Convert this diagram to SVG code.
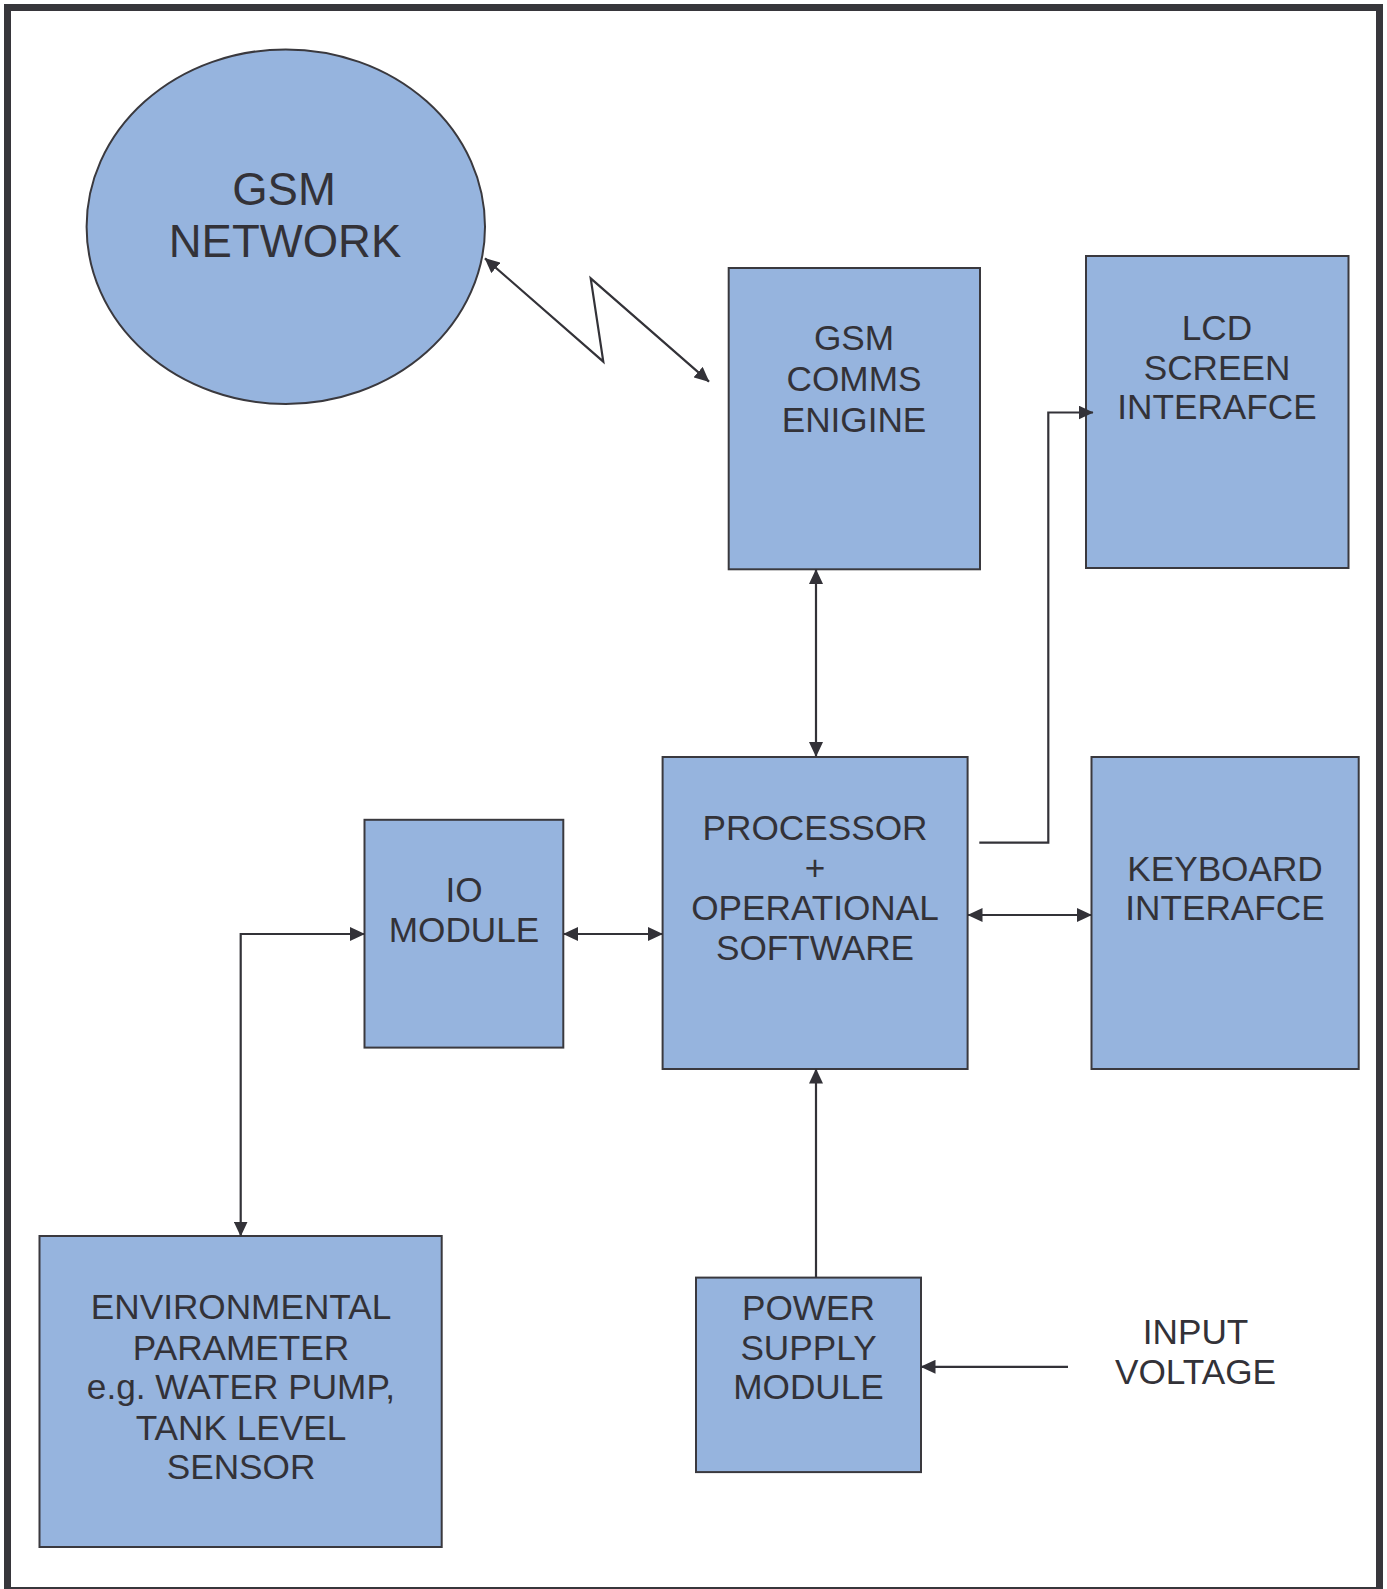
<svg xmlns="http://www.w3.org/2000/svg" width="1387" height="1589" viewBox="0 0 1387 1589">
<style>
.box{fill:#96b4de;stroke:#3a393e;stroke-width:2}
.t{font-family:"Liberation Sans",Arial,Helvetica,sans-serif;font-size:35.2px;fill:#333238;text-anchor:middle}
.big{font-size:45.5px}
.c{fill:none;stroke:#333238;stroke-width:2.2}
</style>
<defs>
<marker id="ah" markerUnits="userSpaceOnUse" markerWidth="15" markerHeight="14" refX="14.5" refY="7" orient="auto-start-reverse" viewBox="0 0 15 14">
<path d="M0,0 L15,7 L0,14 Z" fill="#333238"/>
</marker>
</defs>
<rect x="0" y="0" width="1387" height="1589" fill="#ffffff"/>
<rect id="frame" x="7.5" y="7.5" width="1372" height="1583" fill="none" stroke="#37363b" stroke-width="7"/>
<g id="gsm-network">
<ellipse class="box" cx="285.8" cy="226.7" rx="199.2" ry="177.3"/>
<text class="t big" x="284" y="205">GSM</text>
<text class="t big" x="285" y="256.7">NETWORK</text>
</g>
<g id="gsm-comms">
<rect class="box" x="728.7" y="268" width="251.3" height="301.3"/>
<text class="t" x="854" y="350">GSM</text>
<text class="t" x="854" y="390.7">COMMS</text>
<text class="t" x="854" y="431.5">ENIGINE</text>
</g>
<g id="lcd">
<rect class="box" x="1086" y="256" width="262.5" height="312"/>
<text class="t" x="1217" y="339.5">LCD</text>
<text class="t" x="1217" y="379.5">SCREEN</text>
<text class="t" x="1217" y="419">INTERAFCE</text>
</g>
<g id="processor">
<rect class="box" x="662.6" y="757" width="305" height="312"/>
<text class="t" x="815" y="840">PROCESSOR</text>
<text class="t" x="815" y="880">+</text>
<text class="t" x="815" y="920">OPERATIONAL</text>
<text class="t" x="815" y="960">SOFTWARE</text>
</g>
<g id="keyboard">
<rect class="box" x="1091.5" y="757" width="267.2" height="312"/>
<text class="t" x="1225" y="880.5">KEYBOARD</text>
<text class="t" x="1225" y="920">INTERAFCE</text>
</g>
<g id="io-module">
<rect class="box" x="364.5" y="819.8" width="198.8" height="227.8"/>
<text class="t" x="464" y="902">IO</text>
<text class="t" x="464" y="941.5">MODULE</text>
</g>
<g id="environmental">
<rect class="box" x="39.5" y="1236" width="402.2" height="311"/>
<text class="t" x="241" y="1319">ENVIRONMENTAL</text>
<text class="t" x="241" y="1359.5">PARAMETER</text>
<text class="t" x="241" y="1399">e.g. WATER PUMP,</text>
<text class="t" x="241" y="1439.5">TANK LEVEL</text>
<text class="t" x="241" y="1479">SENSOR</text>
</g>
<g id="power">
<rect class="box" x="696" y="1277.6" width="225" height="194.5"/>
<text class="t" x="808.5" y="1320">POWER</text>
<text class="t" x="808.5" y="1359.7">SUPPLY</text>
<text class="t" x="808.5" y="1399">MODULE</text>
</g>
<g id="input-voltage">
<text class="t" x="1195.5" y="1343.5">INPUT</text>
<text class="t" x="1195.5" y="1384">VOLTAGE</text>
</g>
<g id="connectors">
<polyline class="c" points="485,258.3 603.3,361.7 590.7,278.3 709,381.7" marker-start="url(#ah)" marker-end="url(#ah)" stroke-width="1.8"/>
<line class="c" x1="816" y1="569.5" x2="816" y2="756.5" marker-start="url(#ah)" marker-end="url(#ah)"/>
<polyline class="c" points="979.3,842.7 1048.3,842.7 1048.3,412.5 1093,412.5" marker-end="url(#ah)"/>
<line class="c" x1="968" y1="915" x2="1091.5" y2="915" marker-start="url(#ah)" marker-end="url(#ah)"/>
<line class="c" x1="563.5" y1="934" x2="662.5" y2="934" marker-start="url(#ah)" marker-end="url(#ah)"/>
<polyline class="c" points="364.5,934 240.7,934 240.7,1236" marker-start="url(#ah)" marker-end="url(#ah)"/>
<line class="c" x1="816" y1="1277.6" x2="816" y2="1069" marker-end="url(#ah)"/>
<line class="c" x1="1068" y1="1366.8" x2="921" y2="1366.8" marker-end="url(#ah)"/>
</g>
</svg>
